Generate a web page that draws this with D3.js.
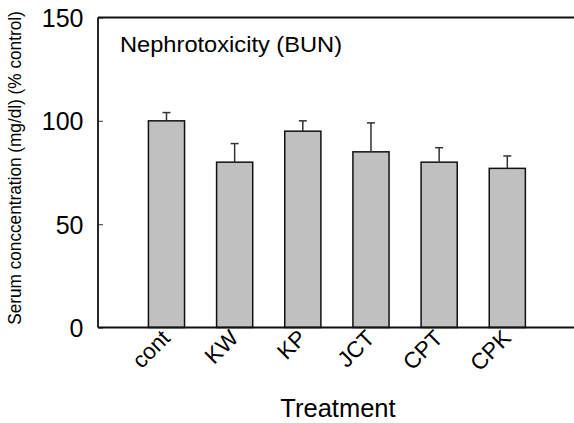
<!DOCTYPE html>
<html>
<head>
<meta charset="utf-8">
<script src="https://cdn.jsdelivr.net/npm/d3@7"></script>
<style>
  body { margin: 0; background: #fff; }
  text { font-family: "Liberation Sans", Arial, sans-serif; fill: #000; }
</style>
</head>
<body>
<svg id="chart" width="574" height="423"></svg>
<script>
// values
const treatments = ['cont', 'KW', 'KP', 'JCT', 'CPT', 'CPK']
const means = [100, 80, 95, 85, 80, 77]
const errors = [4, 9, 5, 14, 7, 6]
const yTicks = [0, 50, 100, 150]

const svg = d3.select('#chart')
const W = 574, H = 423
const plotLeft = 98, plotTop = 17.5, plotBottom = 327.5

var x = d3.scaleBand()
  .domain(treatments)
  .range([132.4, 541.4])
  .paddingInner(0.47)
  .paddingOuter(0.235)

var y = d3.scaleLinear()
  .domain([0, 150])
  .range([plotBottom, plotTop])

// bars
svg.selectAll('rect.bar')
  .data(treatments)
  .enter().append('rect')
  .attr('class', 'bar')
  .attr('x', d => x(d))
  .attr('width', x.bandwidth())
  .attr('y', (d, i) => y(means[i]))
  .attr('height', (d, i) => y(0) - y(means[i]))
  .attr('fill', '#c0c0c0')
  .attr('stroke', '#111')
  .attr('stroke-width', 1.5)

// error bars (upper only)
const eb = svg.append('g').attr('stroke', '#333').attr('stroke-width', 1.5)
treatments.forEach((t, i) => {
  const cx = x(t) + x.bandwidth() / 2
  eb.append('line')
    .attr('x1', cx).attr('x2', cx)
    .attr('y1', y(means[i])).attr('y2', y(means[i] + errors[i]))
  eb.append('line')
    .attr('x1', cx - 4).attr('x2', cx + 4)
    .attr('y1', y(means[i] + errors[i])).attr('y2', y(means[i] + errors[i]))
})

// y axis, ticks inward
const yAxis = svg.append('g')
  .attr('transform', `translate(${plotLeft},0)`)
  .call(d3.axisRight(y).tickValues(yTicks).tickSize(5).tickFormat(''))
yAxis.select('.domain').remove()
yAxis.selectAll('.tick line').attr('stroke', '#555').attr('stroke-width', 1.2)

yAxis.selectAll('.tick').append('text')
  .attr('x', -14.5)
  .attr('dy', '0.36em')
  .attr('text-anchor', 'end')
  .attr('font-size', 25)
  .text(d => d)

// frame: left, top, bottom lines (no right border)
const frame = svg.append('g').attr('stroke', '#111').attr('stroke-width', 1.8)
frame.append('line').attr('x1', plotLeft).attr('x2', plotLeft).attr('y1', y(150)).attr('y2', y(0))
frame.append('line').attr('x1', plotLeft).attr('x2', W).attr('y1', y(150)).attr('y2', y(150))
frame.append('line').attr('x1', plotLeft).attr('x2', W).attr('y1', y(0)).attr('y2', y(0))

// x labels rotated
svg.selectAll('text.xlab')
  .data(treatments)
  .enter().append('text')
  .attr('class', 'xlab')
  .attr('text-anchor', 'end')
  .attr('font-size', 22.5)
  .attr('transform', d => `translate(${x(d) + x.bandwidth() / 2 + 5},${plotBottom + 12}) rotate(-45)`)
  .text(d => d)

// title inside plot
svg.append('text')
  .attr('transform', 'translate(120,52) scale(1.1,1)')
  .attr('font-size', 21.5)
  .text('Nephrotoxicity (BUN)')

// axis titles
svg.append('text')
  .attr('text-anchor', 'middle')
  .attr('font-size', 25.5)
  .attr('x', 338)
  .attr('y', 417)
  .text('Treatment')

svg.append('text')
  .attr('text-anchor', 'middle')
  .attr('font-size', 17.2)
  .attr('transform', 'translate(21,168) scale(1.1,1) rotate(-90)')
  .text('Serum conccentration (mg/dl) (% control)')
</script>
</body>
</html>
